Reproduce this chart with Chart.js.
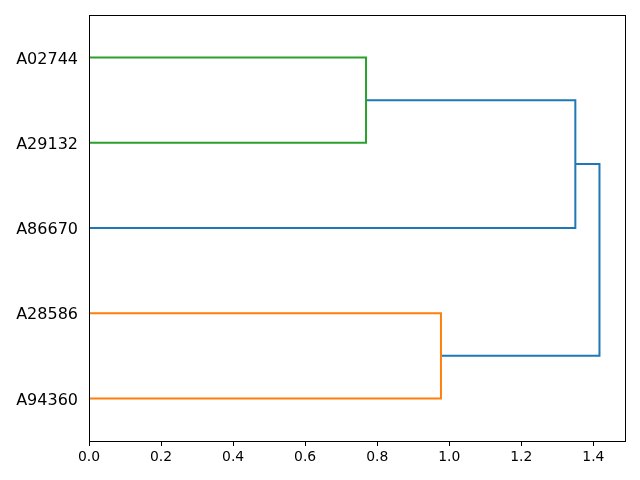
<!DOCTYPE html>
<html>
<head>
<meta charset="utf-8">
<script src="https://cdn.jsdelivr.net/npm/chart.js@4/dist/chart.umd.min.js"></script>
<style>
html,body{margin:0;padding:0;background:#fff;}
canvas{display:block;}
</style>
</head>
<body>
<canvas id="c" width="640" height="480"></canvas>
<script>
// Leaves (bottom to top) and their positions on the leaf axis
const leafLabels = ['A94360', 'A28586', 'A86670', 'A29132', 'A02744'];
const leafPositions = [5, 15, 25, 35, 45];

// Links (U-shapes): leaf-axis coords and distance coords
const linkLeafCoords = [
  [35, 35, 45, 45],
  [5, 5, 15, 15],
  [25, 25, 40, 40],
  [10, 10, 32.5, 32.5]
];
const linkDistances = [
  [0, 0.769, 0.769, 0],
  [0, 0.977, 0.977, 0],
  [0, 1.350, 1.350, 0.769],
  [0.977, 1.417, 1.417, 1.350]
];
const linkColors = ['#2ca02c', '#ff7f0e', '#1f77b4', '#1f77b4'];

const xTickValues = [0, 0.2, 0.4, 0.6, 0.8, 1.0, 1.2, 1.4];
const xMax = 1.417 * 1.05;
const yMax = 50;

const datasets = linkDistances.map((xs, i) => ({
  data: xs.map((x, j) => ({x: x, y: linkLeafCoords[i][j]})),
  borderColor: linkColors[i],
  backgroundColor: linkColors[i],
  borderWidth: 2,
  showLine: true,
  fill: false,
  tension: 0,
  pointRadius: 0,
  pointHoverRadius: 0
}));

const framePlugin = {
  id: 'frame',
  afterDatasetsDraw(chart) {
    const a = chart.chartArea, ctx = chart.ctx;
    ctx.save();
    ctx.strokeStyle = '#000';
    ctx.lineWidth = 1;
    ctx.strokeRect(Math.round(a.left) + 0.5, Math.round(a.top) + 0.5,
                   Math.round(a.right - a.left), Math.round(a.bottom - a.top));
    ctx.restore();
  }
};

new Chart(document.getElementById('c'), {
  type: 'scatter',
  data: {datasets: datasets},
  options: {
    responsive: false,
    animation: false,
    events: [],
    layout: {padding: {left: 0, right: 15, top: 15, bottom: 0}},
    plugins: {legend: {display: false}, tooltip: {enabled: false}},
    scales: {
      x: {
        type: 'linear',
        min: 0,
        max: xMax,
        afterBuildTicks: s => { s.ticks = xTickValues.map(v => ({value: v})); },
        afterFit: s => { s.height = 39; s.paddingLeft = 0; s.paddingRight = 0; },
        grid: {display: true, drawOnChartArea: false, drawTicks: true, tickLength: 5, color: '#000', lineWidth: 1},
        border: {display: true, color: '#000', width: 1},
        ticks: {
          color: '#000',
          padding: 3,
          maxRotation: 0,
          font: {family: 'DejaVu Sans', size: 13.9},
          callback: v => Number(v).toFixed(1)
        }
      },
      y: {
        type: 'linear',
        min: 0,
        max: yMax,
        afterBuildTicks: s => { s.ticks = leafPositions.map(v => ({value: v})); },
        afterFit: s => { s.width = 89; s.paddingTop = 0; s.paddingBottom = 0; },
        grid: {display: false, drawTicks: false},
        border: {display: true, color: '#000', width: 1},
        ticks: {
          color: '#000',
          padding: 11,
          labelOffset: 2,
          font: {family: 'DejaVu Sans', size: 16},
          callback: v => {
            const i = leafPositions.indexOf(v);
            return i >= 0 ? leafLabels[i] : '';
          }
        }
      }
    }
  },
  plugins: [framePlugin]
});
</script>
</body>
</html>
